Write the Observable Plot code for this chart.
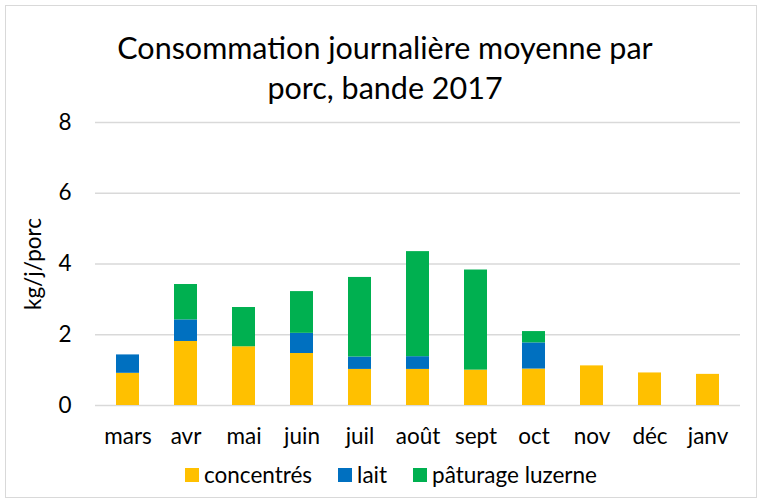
<!DOCTYPE html>
<html><head><meta charset="utf-8">
<script src="https://cdn.jsdelivr.net/npm/d3@7"></script>
<script src="https://cdn.jsdelivr.net/npm/@observablehq/plot@0.6"></script>
<style>
body{margin:0;background:#fff;font-family:Lato,sans-serif;color:#000;}
#wrap{position:relative;width:765px;height:502px;overflow:hidden;}
#frame{position:absolute;left:5px;top:5px;width:752px;height:493px;border:1px solid #d9d9d9;box-sizing:border-box;}
#title{position:absolute;left:0;width:770px;top:27px;text-align:center;font-size:30.5px;line-height:40px;}
#chart{position:absolute;left:0;top:100px;}
#legend{position:absolute;left:0;width:782px;top:462px;display:flex;justify-content:center;align-items:center;font-size:22.5px;line-height:26px;}
#legend .item{display:flex;align-items:center;margin:0 13px;}
#legend .sw{width:14px;height:14px;margin-right:5px;}
</style></head>
<body>
<div id="wrap">
  <div id="frame"></div>
  <div id="title">Consommation journalière moyenne par<br>porc, bande 2017</div>
  <div id="chart"></div>
  <div id="legend"></div>
</div>
<script>
const months = ["mars","avr","mai","juin","juil","août","sept","oct","nov","déc","janv"];
const concentres = [0.91,1.81,1.66,1.47,1.02,1.02,1.00,1.03,1.12,0.92,0.88];
const lait = [0.52,0.61,0,0.57,0.35,0.36,0,0.74,0,0,0];
const paturage = [0,1.00,1.11,1.18,2.25,2.97,2.83,0.32,0,0,0];
const seriesNames = ["concentrés","lait","pâturage luzerne"];
const seriesColors = ["#FFC000","#0070C0","#00B050"];
const yTicks = [0,2,4,6,8];

const seriesValues = [concentres, lait, paturage];
const data = [];
months.forEach((m, i) => {
  seriesNames.forEach((s, j) => {
    data.push({month: m, series: s, value: seriesValues[j][i]});
  });
});

const chart = Plot.plot({
  width: 765,
  height: 355,
  marginTop: 22,
  marginBottom: 50,
  marginLeft: 95,
  marginRight: 25,
  style: {fontFamily: "Lato, sans-serif", fontSize: "22.5px", color: "#000", background: "transparent"},
  x: {domain: months, paddingInner: 0.6, paddingOuter: 0.3, label: null},
  y: {domain: [0, 8], label: null},
  color: {domain: seriesNames, range: seriesColors},
  marks: [
    Plot.gridY(yTicks, {stroke: "#d9d9d9", strokeOpacity: 1, strokeWidth: 1.5}),
    Plot.barY(data, {x: "month", y: "value", fill: "series", order: seriesNames}),
    Plot.axisX({tickSize: 0, tickPadding: 23, label: null}),
    Plot.axisY(yTicks, {tickSize: 0, tickPadding: 24, label: "kg/j/porc", labelAnchor: "center", labelOffset: 70, labelArrow: false})
  ]
});
document.getElementById("chart").appendChild(chart);

const legend = document.getElementById("legend");
seriesNames.forEach((s, j) => {
  const item = document.createElement("div");
  item.className = "item";
  const sw = document.createElement("div");
  sw.className = "sw";
  sw.style.background = seriesColors[j];
  const t = document.createElement("span");
  t.textContent = s;
  item.appendChild(sw); item.appendChild(t);
  legend.appendChild(item);
});
</script>
</body></html>
